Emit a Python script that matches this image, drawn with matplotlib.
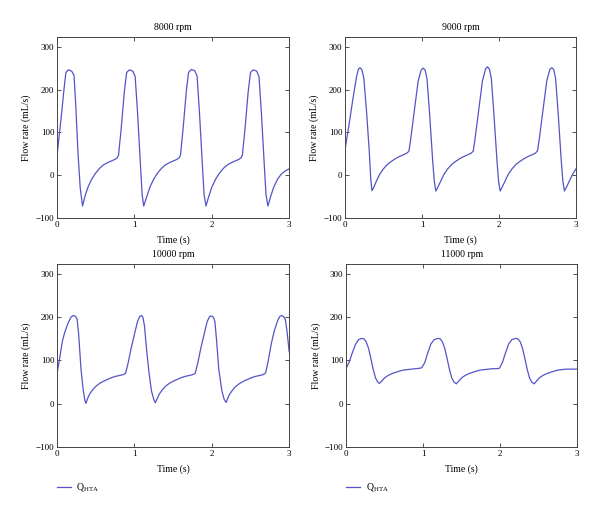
import matplotlib
matplotlib.use("Agg")
import matplotlib.pyplot as plt

plt.rcParams['font.family'] = ['Liberation Serif', 'DejaVu Serif']
plt.rcParams['mathtext.fontset'] = 'custom'
plt.rcParams['mathtext.rm'] = 'Liberation Serif'

# flow rate traces (time in s, flow in mL/s)
t8000 = [0, 0.03, 0.06, 0.09, 0.115, 0.145, 0.19, 0.22, 0.24, 0.27, 0.30, 0.33,
         0.36, 0.40, 0.45, 0.50, 0.55, 0.60, 0.65, 0.70, 0.75, 0.78, 0.795,
         0.83, 0.87, 0.90, 0.935, 0.98, 1.01, 1.04, 1.08, 1.10, 1.12,
         1.16, 1.20, 1.25, 1.30, 1.35, 1.40, 1.45, 1.50, 1.55, 1.58, 1.595,
         1.63, 1.67, 1.70, 1.735, 1.78, 1.81, 1.84, 1.88, 1.90, 1.925,
         1.96, 2.00, 2.05, 2.10, 2.15, 2.20, 2.25, 2.30, 2.35, 2.38, 2.395,
         2.43, 2.47, 2.50, 2.535, 2.58, 2.61, 2.64, 2.68, 2.70, 2.725,
         2.76, 2.80, 2.85, 2.90, 2.95, 3.0]
q8000 = [45, 95, 145, 200, 240, 246, 243, 233, 172, 56, -30, -72,
         -50, -28, -9, 5, 16, 24, 29, 33, 37, 41, 47,
         110, 195, 240, 246, 243, 230, 148, 18, -45, -72,
         -50, -28, -9, 5, 16, 24, 29, 33, 37, 41, 47,
         110, 195, 240, 247, 244, 231, 148, 18, -45, -72,
         -50, -28, -9, 5, 16, 24, 29, 33, 37, 41, 47,
         110, 195, 240, 246, 243, 230, 148, 18, -45, -72,
         -50, -28, -9, 3, 10, 15]

t9000 = [0, 0.05, 0.10, 0.15, 0.175, 0.195, 0.22, 0.245, 0.28, 0.315, 0.335, 0.35,
         0.37, 0.40, 0.45, 0.50, 0.55, 0.60, 0.65, 0.70, 0.75, 0.80, 0.83,
         0.85, 0.90, 0.95, 0.99, 1.015, 1.04, 1.065, 1.10, 1.14, 1.16, 1.18,
         1.20, 1.235, 1.285, 1.335, 1.385, 1.435, 1.485, 1.535, 1.585, 1.635, 1.665,
         1.685, 1.735, 1.785, 1.825, 1.85, 1.875, 1.90, 1.935, 1.975, 1.995, 2.015,
         2.035, 2.07, 2.12, 2.17, 2.22, 2.27, 2.32, 2.37, 2.42, 2.47, 2.50,
         2.52, 2.57, 2.62, 2.66, 2.685, 2.71, 2.735, 2.77, 2.81, 2.83, 2.85,
         2.87, 2.905, 2.95, 3.0]
q9000 = [60, 115, 175, 230, 248, 251, 246, 226, 148, 56, -10, -36,
         -30, -17, 2, 15, 25, 32, 38, 43, 47, 51, 56,
         80, 150, 220, 246, 250, 246, 225, 140, 30, -15, -37,
         -30, -17, 2, 15, 25, 32, 38, 43, 47, 51, 56,
         80, 150, 220, 248, 253, 248, 227, 140, 30, -15, -37,
         -30, -17, 2, 15, 25, 32, 38, 43, 47, 51, 57,
         80, 150, 220, 247, 251, 247, 226, 140, 30, -15, -37,
         -30, -17, 0, 15]

t10000 = [0, 0.03, 0.07, 0.10, 0.14, 0.18, 0.21, 0.24, 0.26, 0.28, 0.31, 0.34, 0.36, 0.375,
          0.39, 0.42, 0.46, 0.50, 0.55, 0.60, 0.65, 0.70, 0.75, 0.80, 0.85, 0.885,
          0.92, 0.96, 1.00, 1.04, 1.07, 1.09, 1.11, 1.13, 1.16, 1.19, 1.22, 1.25, 1.27,
          1.29, 1.32, 1.36, 1.40, 1.45, 1.50, 1.55, 1.60, 1.65, 1.70, 1.75, 1.785,
          1.82, 1.86, 1.90, 1.94, 1.97, 1.995, 2.02, 2.04, 2.06, 2.09, 2.13, 2.16, 2.185,
          2.20, 2.23, 2.27, 2.31, 2.36, 2.41, 2.46, 2.51, 2.56, 2.61, 2.66, 2.695,
          2.73, 2.77, 2.81, 2.85, 2.88, 2.905, 2.93, 2.95, 2.97, 3.0]
q10000 = [70, 100, 145, 165, 185, 200, 204, 202, 195, 160, 80, 30, 8, 1,
          10, 22, 32, 40, 47, 52, 56, 60, 63, 65, 67, 70,
          95, 130, 160, 190, 202, 204, 200, 180, 120, 70, 30, 10, 2,
          10, 22, 32, 40, 47, 52, 56, 60, 63, 65, 67, 70,
          95, 130, 160, 190, 201, 203, 200, 190, 150, 80, 30, 10, 3,
          10, 22, 32, 40, 47, 52, 56, 60, 63, 65, 67, 71,
          100, 140, 170, 192, 202, 204, 201, 195, 170, 120]

t11000 = [0, 0.04, 0.08, 0.12, 0.16, 0.20, 0.23, 0.26, 0.29, 0.32, 0.35, 0.38, 0.41, 0.43,
          0.46, 0.50, 0.55, 0.60, 0.65, 0.70, 0.75, 0.80, 0.85, 0.90, 0.95, 0.98,
          1.02, 1.06, 1.10, 1.14, 1.19, 1.22, 1.25, 1.28, 1.31, 1.34, 1.37, 1.40, 1.43,
          1.46, 1.50, 1.55, 1.60, 1.65, 1.70, 1.75, 1.80, 1.85, 1.90, 1.95, 1.99,
          2.03, 2.07, 2.11, 2.15, 2.20, 2.23, 2.26, 2.29, 2.32, 2.35, 2.38, 2.41, 2.44,
          2.47, 2.51, 2.56, 2.61, 2.66, 2.71, 2.76, 2.81, 2.86, 2.91, 2.96, 3.0]
q11000 = [82, 97, 118, 137, 148, 151, 150, 143, 128, 105, 80, 60, 50, 47,
          52, 60, 66, 70, 73, 76, 78, 79, 80, 81, 82, 83,
          95, 118, 138, 148, 151, 150, 143, 128, 105, 80, 60, 50, 46,
          52, 60, 66, 70, 73, 76, 78, 79, 80, 81, 81, 82,
          96, 118, 138, 148, 151, 150, 143, 128, 105, 80, 60, 50, 46,
          52, 60, 66, 70, 73, 76, 78, 79, 80, 80, 80, 80]

titles = ['8000 rpm', '9000 rpm', '10000 rpm', '11000 rpm']
series = [(t8000, q8000), (t9000, q9000), (t10000, q10000), (t11000, q11000)]
col = '#5454c8'

fig = plt.figure(figsize=(6, 5.16), dpi=100)
rects = [[0.095, 0.5775, 0.387, 0.351],
         [0.575, 0.5775, 0.385, 0.351],
         [0.095, 0.1337, 0.387, 0.3547],
         [0.577, 0.1337, 0.385, 0.3547]]

for i in range(4):
    ax = fig.add_axes(rects[i])
    t, q = series[i]
    ax.plot(t, q, color=col, lw=0.9, label=r'Q$_{\mathrm{HTA}}$')
    ax.set_xlim(0, 3)
    ax.set_ylim(-100, 323)
    ax.set_xticks([0, 1, 2, 3])
    ax.set_yticks([-100, 0, 100, 200, 300])
    ax.set_yticklabels(['\u2212100', '0', '100', '200', '300'])
    ax.tick_params(direction='in', top=True, right=True, length=3, width=0.6,
                   labelsize=6.5, pad=2, color='#333333')
    for s in ax.spines.values():
        s.set_linewidth(0.7)
        s.set_color('#444444')
    ax.set_title(titles[i], fontsize=7, pad=5)
    ax.set_xlabel('Time (s)', fontsize=7, labelpad=5)
    ax.set_ylabel('Flow rate (mL/s)', fontsize=7, labelpad=3)
    if i >= 2:
        ax.legend(loc='center left', bbox_to_anchor=(0, -0.224), frameon=False,
                  fontsize=7, handlelength=1.4, handletextpad=0.6,
                  borderpad=0, borderaxespad=0)

fig.savefig('out.png', dpi=100)
